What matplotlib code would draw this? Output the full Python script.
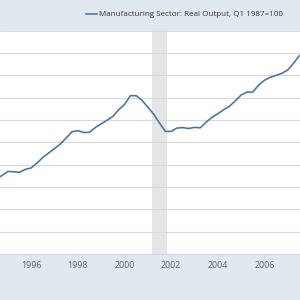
import matplotlib
matplotlib.use("Agg")
import matplotlib.pyplot as plt
import matplotlib.dates as mdates
import pandas as pd

# квартальные данные, читаем с картинки
start_quarter = "1994-07-01"
output_index = [
    123.6, 125.2, 127.0, 126.8, 126.6, 127.9, 128.6, 130.8, 133.3, 135.3,
    137.3, 139.3, 142.0, 144.8, 145.2, 144.4, 144.5, 146.7, 148.3, 149.9,
    151.6, 154.6, 157.0, 160.9, 160.9, 158.8, 155.7, 152.6, 148.7, 144.9,
    144.9, 146.4, 146.6, 146.2, 146.7, 146.5, 149.0, 151.2, 152.8, 154.6,
    156.1, 158.6, 161.2, 162.5, 162.5, 165.6, 167.8, 169.1, 170.0, 170.9,
    172.4, 175.4, 178.8,
]
tick_years = [1996, 1998, 2000, 2002, 2004, 2006]
recession = ("2001-03-01", "2001-11-01")
series_label = "Manufacturing Sector: Real Output, Q1 1987=100"

dates = pd.date_range(start_quarter, periods=len(output_index), freq="QS")

plt.rcParams['font.family'] = ['Open Sans', 'DejaVu Sans']

band = "#e1e9f0"
fig = plt.figure(figsize=(3, 3), dpi=100)
fig.patch.set_facecolor(band)

ax = fig.add_axes([0, 46 / 300, 1, 223.3 / 300])
ax.set_facecolor("white")

ax.axvspan(pd.Timestamp(recession[0]), pd.Timestamp(recession[1]),
           color="#e5e5e5", lw=0, zorder=0)
ax.plot(dates, output_index, color="#4572a7", lw=1.15, zorder=3)

ax.set_ylim(90, 190)
ax.set_yticks(range(100, 190, 10))
ax.yaxis.grid(True, color="#d8d8d8", lw=0.8, zorder=1)
ax.tick_params(axis="y", left=False, labelleft=False)

ax.set_xlim(pd.Timestamp("1994-08-28"), pd.Timestamp("2007-07-12"))
ax.set_xticks([pd.Timestamp(f"{y}-01-01") for y in tick_years])
ax.xaxis.set_major_formatter(mdates.DateFormatter("%Y"))
ax.tick_params(axis="x", direction="out", length=4.3, width=0.6,
               color="#ccd6eb", labelsize=6.4, labelcolor="#606060", pad=1)

for side in ["left", "right"]:
    ax.spines[side].set_visible(False)
ax.spines["top"].set_color("#d0dae4")
ax.spines["top"].set_linewidth(0.6)
ax.spines["bottom"].set_color("#ccd6eb")
ax.spines["bottom"].set_linewidth(0.8)

# легенда в верхней полосе
fig.lines.append(plt.Line2D([86 / 300, 97 / 300], [1 - 14 / 300, 1 - 14 / 300],
                            color="#4572a7", lw=1.15, transform=fig.transFigure))
fig.text(99 / 300, 1 - 14 / 300, series_label, fontsize=5.8, color="#333333",
         va="center", ha="left")

fig.savefig("out.png", dpi=100, facecolor=fig.get_facecolor())
